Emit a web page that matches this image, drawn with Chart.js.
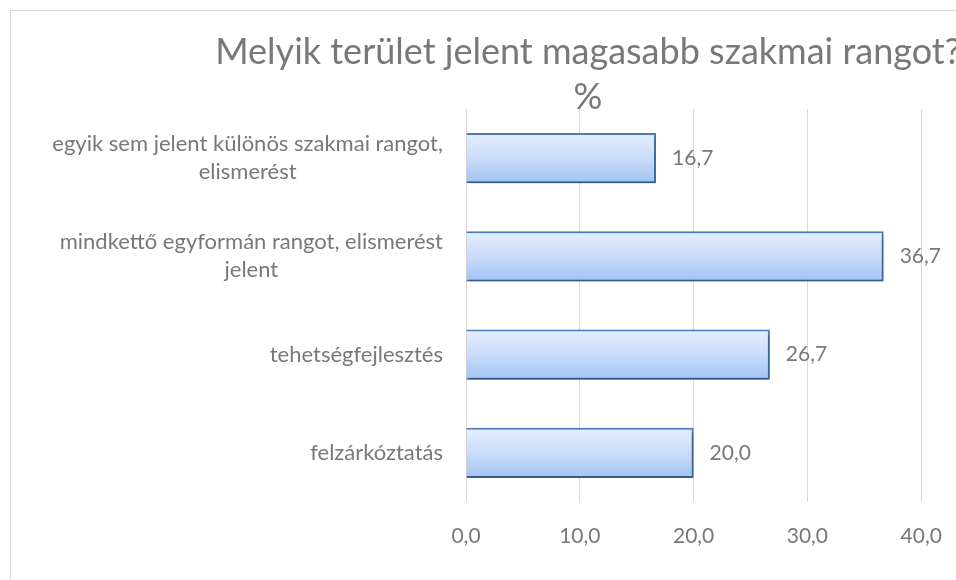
<!DOCTYPE html>
<html>
<head>
<meta charset="utf-8">
<script src="https://cdn.jsdelivr.net/npm/chart.js@4"></script>
<style>
    html, body { margin: 0; padding: 0; background: #fff; overflow: hidden; }
    body { width: 956px; height: 580px; position: relative; }
    #box {
        position: absolute; left: 10px; top: 10px;
        width: 1160px; height: 580px;
        border-top: 1px solid #d9d9d9; border-left: 1px solid #d9d9d9;
    }
    #myChart { display: block; }
</style>
</head>
<body>
<div id="box"><canvas id="myChart" width="1154" height="569"></canvas></div>
<script>
categorias = [
    ['egyik sem jelent különös szakmai rangot,', 'elismerést'],
    ['mindkettő egyformán rangot, elismerést', 'jelent'],
    ['tehetségfejlesztés'],
    ['felzárkóztatás']
]
valores = [16.7, 36.7, 26.7, 20.0]
titulo = ['Melyik terület jelent magasabb szakmai rangot?', '%']

var cinza = '#787878';
var fonte = 'Lato, "Open Sans", sans-serif';

function virgula(v) {
    return Number(v).toFixed(1).replace('.', ',');
}

// gradiente vertical de cada barra
function fundoBarra(context) {
    var chart = context.chart;
    var y = chart.scales.y;
    if (!chart.chartArea || !y || context.dataIndex === undefined) return '#c6d9f7';
    var meio = y.getPixelForValue(context.dataIndex);
    var meia = y.height / categorias.length * 0.51 / 2;
    var g = chart.ctx.createLinearGradient(0, meio - meia, 0, meio + meia);
    g.addColorStop(0, '#e6eefd');
    g.addColorStop(0.5, '#cadcf9');
    g.addColorStop(1, '#a2c2f5');
    return g;
}

var sombra = {
    id: 'sombra',
    beforeDatasetsDraw: function (chart) {
        var ctx = chart.ctx;
        ctx.save();
        ctx.shadowColor = 'rgba(0,0,0,0.35)';
        ctx.shadowBlur = 4;
        ctx.shadowOffsetX = 1;
        ctx.shadowOffsetY = 3;
    },
    afterDatasetsDraw: function (chart) {
        chart.ctx.restore();
    }
};

// rótulos de valor e rótulos das categorias
var rotulos = {
    id: 'rotulos',
    afterDraw: function (chart) {
        var ctx = chart.ctx;
        var y = chart.scales.y;
        ctx.save();
        ctx.fillStyle = cinza;
        ctx.textBaseline = 'middle';

        ctx.font = '21px ' + fonte;
        ctx.textAlign = 'left';
        chart.getDatasetMeta(0).data.forEach(function (bar, i) {
            ctx.fillText(virgula(valores[i]), bar.x + 16, bar.y);
        });

        ctx.font = '22px ' + fonte;
        ctx.textAlign = 'center';
        var direita = y.right - 23;
        var alt = 28;
        categorias.forEach(function (linhas, i) {
            var larg = 0;
            linhas.forEach(function (t) { larg = Math.max(larg, ctx.measureText(t).width); });
            var cx = direita - larg / 2;
            var cy = y.getPixelForValue(i) - (linhas.length - 1) * alt / 2;
            linhas.forEach(function (t, k) {
                ctx.fillText(t, cx, cy + k * alt);
            });
        });
        ctx.restore();
    }
};

function renderChart() {
    var ctx = document.getElementById('myChart').getContext('2d');
    var myChart = new Chart(ctx, {
        type: 'bar',
        data: {
            labels: categorias,
            datasets: [{
                label: '%',
                data: valores,
                backgroundColor: fundoBarra,
                borderColor: '#4a7ebb',
                borderWidth: 2,
                borderSkipped: 'start',
                categoryPercentage: 1,
                barPercentage: 0.51
            }]
        },
        options: {
            indexAxis: 'y',
            responsive: false,
            animation: { duration: 0 },
            layout: { padding: { left: 130, right: 130, top: 0, bottom: 0 } },
            plugins: {
                legend: { display: false },
                tooltip: { enabled: false },
                title: {
                    display: true,
                    text: titulo,
                    color: cinza,
                    font: { family: fonte, size: 36, weight: 'normal', lineHeight: '45px' },
                    padding: { top: 19, bottom: -11 }
                }
            },
            scales: {
                x: {
                    min: 0,
                    max: 50,
                    ticks: {
                        stepSize: 10,
                        color: cinza,
                        padding: 22,
                        font: { family: fonte, size: 21 },
                        callback: function (v) { return virgula(v); }
                    },
                    grid: { color: '#d9d9d9', lineWidth: 1, drawTicks: false },
                    border: { display: false },
                    afterFit: function (scale) { scale.height = 78; }
                },
                y: {
                    ticks: { display: false },
                    grid: { display: false },
                    border: { display: false },
                    afterFit: function (scale) { scale.width = 325; }
                }
            }
        },
        plugins: [sombra, rotulos]
    });
}

renderChart();
</script>
</body>
</html>
